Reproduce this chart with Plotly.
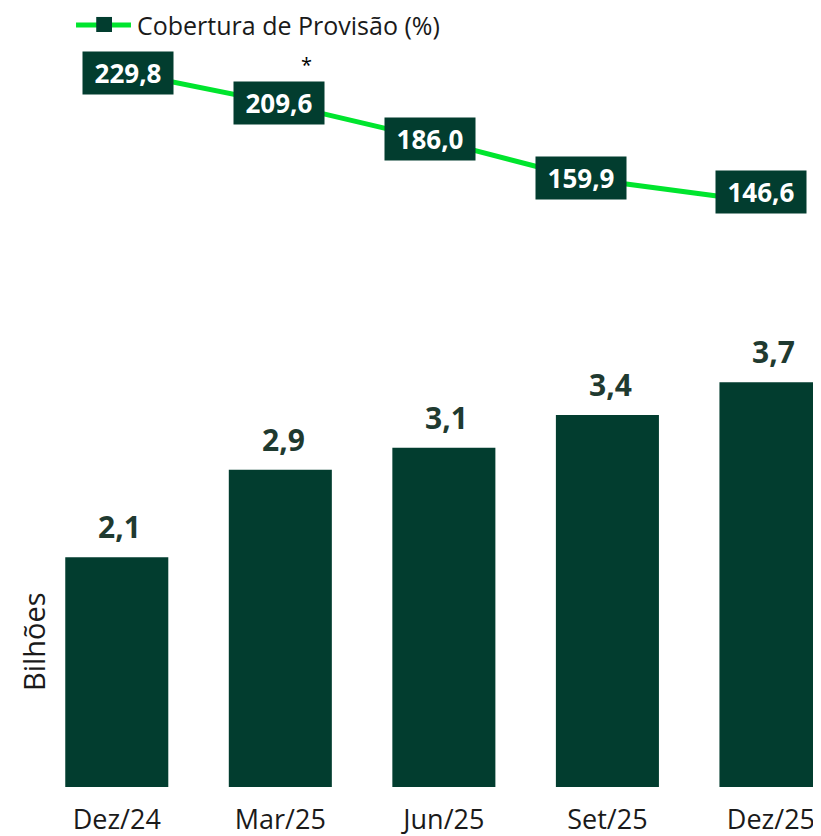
import plotly.graph_objects as go

# Dados
periodos = ["Dez/24", "Mar/25", "Jun/25", "Set/25", "Dez/25"]
carteira_bilhoes = [2.1, 2.9, 3.1, 3.4, 3.7]
cobertura_pct = [229.8, 209.6, 186.0, 159.9, 146.6]
nome_linha = "Cobertura de Provisão (%)"

VERDE_ESCURO = "#023d2f"
VERDE_LINHA = "#00e52e"
COR_ROTULO = "#1f3a30"
COR_TEXTO = "#1a1a1a"
FONTE = "Open Sans"


def br(v):
    # formato brasileiro: vírgula decimal
    return f"{v:.1f}".replace(".", ",")


fig = go.Figure()

fig.add_trace(go.Bar(
    x=periodos, y=carteira_bilhoes,
    marker=dict(color=VERDE_ESCURO, line=dict(width=0)),
    showlegend=False, hoverinfo="skip",
))

fig.add_trace(go.Scatter(
    x=periodos, y=cobertura_pct,
    xaxis="x2", yaxis="y2",
    mode="lines+markers",
    name=nome_linha, showlegend=False,
    line=dict(color=VERDE_LINHA, width=5),
    marker=dict(symbol="square", size=15, color=VERDE_ESCURO),
))

annotations = []
# rótulos das barras
for p, v in zip(periodos, carteira_bilhoes):
    annotations.append(dict(
        x=p, y=v, xref="x", yref="y",
        text=f"<b>{br(v)}</b>", showarrow=False,
        yanchor="bottom", yshift=8, xshift=3,
        font=dict(family=FONTE, size=30, color=COR_ROTULO),
    ))
# rótulos da linha (caixas escuras); o último fica um pouco à direita
ultimo = len(periodos) - 1
for i, (p, v) in enumerate(zip(periodos, cobertura_pct)):
    annotations.append(dict(
        x=p, y=v, xref="x2", yref="y2",
        text=f"<b>{br(v)}</b>", showarrow=False,
        bgcolor=VERDE_ESCURO, borderpad=5, width=80, height=32,
        xshift=29 if i == ultimo else 0,
        yshift=6 if i == ultimo else 0,
        font=dict(family=FONTE, size=26, color="white"),
    ))
# asterisco em Mar/25
annotations.append(dict(
    x=periodos[1], y=cobertura_pct[1], xref="x2", yref="y2",
    text="*", showarrow=False, xshift=27, yshift=39,
    font=dict(family=FONTE, size=20, color="black"),
))
# título do eixo
annotations.append(dict(
    x=0, y=0.186, xref="paper", yref="paper",
    text="Bilhões", textangle=-90, showarrow=False,
    xanchor="center", yanchor="middle", xshift=-2,
    font=dict(family=FONTE, size=29, color=COR_TEXTO),
))
# legenda desenhada à mão (linha longa com marcador quadrado)
annotations.append(dict(
    x=0.1285, y=0.9782, xref="paper", yref="paper",
    text=nome_linha, showarrow=False,
    xanchor="left", yanchor="middle", borderpad=0,
    font=dict(family=FONTE, size=25, color=COR_TEXTO),
))
shapes = [
    dict(type="line", xref="paper", yref="paper",
         x0=0.0522, x1=0.1221, y0=0.9782, y1=0.9782,
         line=dict(color=VERDE_LINHA, width=5)),
    dict(type="rect", xref="paper", yref="paper",
         x0=0.0779, x1=0.0980, y0=0.9692, y1=0.9885,
         fillcolor=VERDE_ESCURO, line=dict(width=0)),
]

fig.update_layout(
    width=813, height=828,
    margin=dict(l=27, r=0, t=0, b=49),
    paper_bgcolor="white", plot_bgcolor="white",
    font=dict(family=FONTE, color=COR_TEXTO),
    bargap=0.37,
    xaxis=dict(
        type="category", range=[-0.5, 4.306],
        showgrid=False, showline=False, zeroline=False, ticks="",
        tickfont=dict(size=27, color=COR_TEXTO),
        ticklabelstandoff=14,
    ),
    xaxis2=dict(
        type="category", overlaying="x", range=[-0.616, 4.589],
        visible=False,
    ),
    yaxis=dict(range=[0, 7.12], visible=False),
    yaxis2=dict(overlaying="y", range=[-245.6, 273.1], visible=False),
    showlegend=False,
    annotations=annotations,
    shapes=shapes,
)

fig.write_html("out.html")
